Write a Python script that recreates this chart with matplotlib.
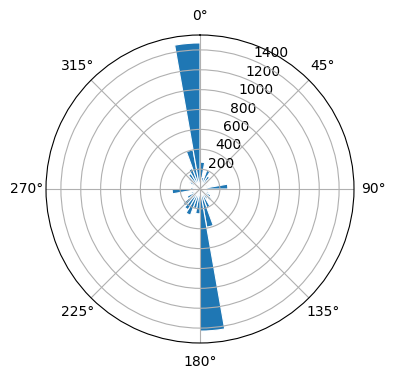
import numpy as np
import matplotlib
matplotlib.use("Agg")
import matplotlib.pyplot as plt

# direction bins (degrees, left edge) and counts
bin_edges_deg = list(range(0, 360, 10))
counts = [270, 120, 200, 150, 120, 80, 90, 60, 280,
          70, 90, 100, 130, 150, 120, 200, 390, 1430,
          250, 200, 280, 240, 220, 150, 100, 80, 280,
          100, 60, 80, 120, 150, 180, 220, 400, 1470]

fig = plt.figure(figsize=(3.96, 3.80), dpi=100)
ax = fig.add_axes([46/396, 37/380, 308/396, 308/380], projection='polar')
ax.set_theta_zero_location('N')
ax.set_theta_direction(-1)
theta = np.deg2rad(np.array(bin_edges_deg) + 5)
ax.bar(theta, counts, width=np.deg2rad(10), color='#1f77b4',
       edgecolor='white', linewidth=0.8)
ax.set_ylim(0, 1550)
ax.set_yticks([200, 400, 600, 800, 1000, 1200, 1400])
fig.savefig("out.png", dpi=100)
